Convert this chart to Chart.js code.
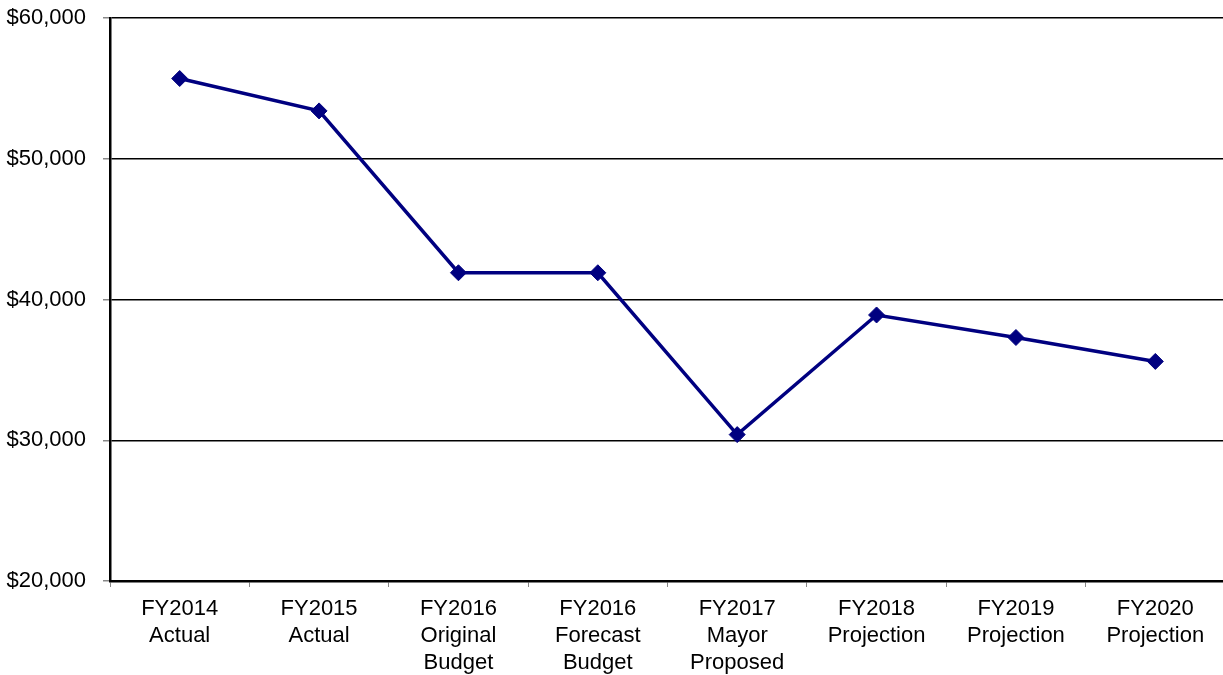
<!DOCTYPE html>
<html>
<head>
<meta charset="utf-8">
<script src="https://cdn.jsdelivr.net/npm/chart.js@4/dist/chart.umd.min.js"></script>
<style>
  html, body { margin: 0; padding: 0; background: #fff; overflow: hidden; }
  #wrap { width: 1234px; height: 675px; }
</style>
</head>
<body>
<div id="wrap"><canvas id="chart" width="1234" height="675"></canvas></div>
<script>
// Fiscal year columns (multi-line labels)
const categories = [
  ['FY2014', 'Actual'],
  ['FY2015', 'Actual'],
  ['FY2016', 'Original', 'Budget'],
  ['FY2016', 'Forecast', 'Budget'],
  ['FY2017', 'Mayor', 'Proposed'],
  ['FY2018', 'Projection'],
  ['FY2019', 'Projection'],
  ['FY2020', 'Projection']
];

// Amounts per fiscal year
const amounts = [55700, 53400, 41900, 41900, 30400, 38900, 37300, 35600];

// Value axis range and step
const yMin = 20000;
const yMax = 60000;
const yStep = 10000;

const fmt = v => '$' + v.toLocaleString('en-US');

new Chart(document.getElementById('chart'), {
  type: 'line',
  data: {
    labels: categories,
    datasets: [{
      data: amounts,
      borderColor: '#000080',
      backgroundColor: '#000080',
      borderWidth: 3.5,
      pointStyle: 'rectRot',
      pointRadius: 8,
      pointBorderWidth: 1,
      pointBorderColor: '#000080',
      pointBackgroundColor: '#000080',
      tension: 0,
      fill: false
    }]
  },
  options: {
    responsive: false,
    animation: false,
    devicePixelRatio: 1,
    layout: { padding: { top: 18, right: 0, bottom: 0, left: 0 } },
    plugins: {
      legend: { display: false },
      tooltip: { enabled: false }
    },
    scales: {
      x: {
        offset: true,
        grid: {
          offset: true,
          drawOnChartArea: false,
          drawTicks: true,
          tickLength: 6,
          tickColor: '#888'
        },
        border: { display: true, color: '#000', width: 2.5 },
        ticks: {
          color: '#000',
          padding: 8,
          maxRotation: 0,
          autoSkip: false,
          font: { family: 'Liberation Sans, Arial, sans-serif', size: 22, lineHeight: 1.23 }
        },
        afterFit: s => { s.height = 94; }
      },
      y: {
        min: yMin,
        max: yMax,
        ticks: {
          stepSize: yStep,
          color: '#000',
          padding: 17,
          callback: v => fmt(v),
          font: { family: 'Liberation Sans, Arial, sans-serif', size: 22 }
        },
        grid: {
          color: '#000',
          lineWidth: 1.5,
          drawTicks: true,
          tickLength: 7,
          tickColor: '#888'
        },
        border: { display: true, color: '#000', width: 2.5 },
        afterFit: s => { s.width = 110; s.paddingTop = 0; s.paddingBottom = 0; }
      }
    }
  }
});
</script>
</body>
</html>
